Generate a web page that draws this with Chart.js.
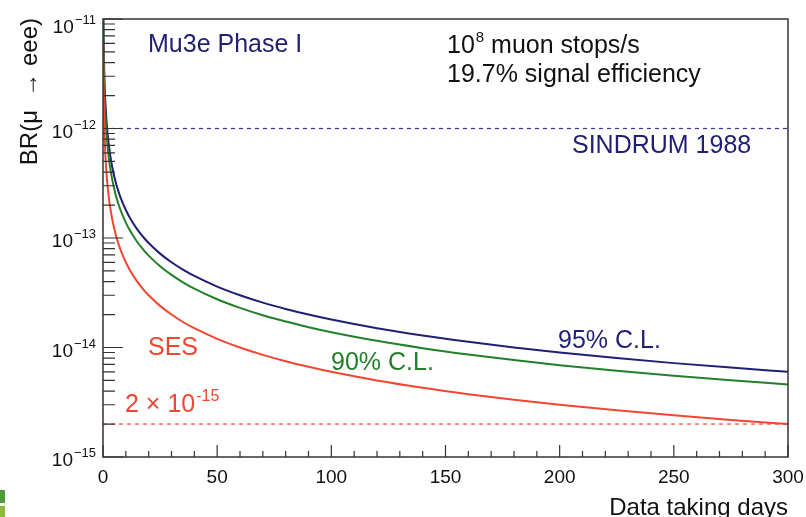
<!DOCTYPE html>
<html>
<head>
<meta charset="utf-8">
<script src="https://cdn.jsdelivr.net/npm/chart.js@4"></script>
<style>
  body { margin: 0; background: #fff; }
  canvas { display: block; }
</style>
</head>
<body>
<canvas id="mu3eChart" width="806" height="517"></canvas>
<script>
// Data taking days and the branching ratio reach
const days = [0.1, 0.15, 0.2, 0.3, 0.4, 0.5, 0.75, 1, 1.5, 2, 2.5, 3, 4, 5, 6, 7, 8, 10, 12, 15, 18, 20, 25, 30, 35, 40, 50, 60, 70, 80, 90, 100, 120, 140, 160, 180, 200, 225, 250, 275, 300];
const sesLimit = [6e-12, 4e-12, 3e-12, 2e-12, 1.5e-12, 1.2e-12, 8e-13, 6e-13, 4e-13, 3e-13, 2.4e-13, 2e-13, 1.5e-13, 1.2e-13, 1e-13, 8.57e-14, 7.5e-14, 6e-14, 5e-14, 4e-14, 3.33e-14, 3e-14, 2.4e-14, 2e-14, 1.71e-14, 1.5e-14, 1.2e-14, 1e-14, 8.57e-15, 7.5e-15, 6.67e-15, 6e-15, 5e-15, 4.29e-15, 3.75e-15, 3.33e-15, 3e-15, 2.67e-15, 2.4e-15, 2.18e-15, 2e-15];
const cl90Limit = [1.38e-11, 9.2e-12, 6.9e-12, 4.6e-12, 3.45e-12, 2.76e-12, 1.84e-12, 1.38e-12, 9.2e-13, 6.9e-13, 5.52e-13, 4.6e-13, 3.45e-13, 2.76e-13, 2.3e-13, 1.97e-13, 1.73e-13, 1.38e-13, 1.15e-13, 9.2e-14, 7.67e-14, 6.9e-14, 5.52e-14, 4.6e-14, 3.94e-14, 3.45e-14, 2.76e-14, 2.3e-14, 1.97e-14, 1.73e-14, 1.53e-14, 1.38e-14, 1.15e-14, 9.86e-15, 8.63e-15, 7.67e-15, 6.9e-15, 6.13e-15, 5.52e-15, 5.02e-15, 4.6e-15];
const cl95Limit = [1.8e-11, 1.2e-11, 9e-12, 6e-12, 4.5e-12, 3.6e-12, 2.4e-12, 1.8e-12, 1.2e-12, 9e-13, 7.2e-13, 6e-13, 4.5e-13, 3.6e-13, 3e-13, 2.57e-13, 2.25e-13, 1.8e-13, 1.5e-13, 1.2e-13, 1e-13, 9e-14, 7.2e-14, 6e-14, 5.14e-14, 4.5e-14, 3.6e-14, 3e-14, 2.57e-14, 2.25e-14, 2e-14, 1.8e-14, 1.5e-14, 1.29e-14, 1.13e-14, 1e-14, 9e-15, 8e-15, 7.2e-15, 6.55e-15, 6e-15];
const xRange = [0, 300];
const sindrumLimit = 1e-12;
const sesTarget = 2e-15;
const xTickLabels = [0, 50, 100, 150, 200, 250, 300];
const yTickExponents = [-11, -12, -13, -14, -15];

const NAVY = '#1f1f73';
const GREEN = '#22802a';
const RED = '#f04632';
const FONT = '"Liberation Sans", Arial, sans-serif';

const toPoints = (xs, ys) => xs.map((d, i) => ({ x: d, y: ys[i] }));

// draws "base" followed by a raised exponent, returns the right edge
const drawPower = (ctx, base, exp, x, y, size, expSize, align) => {
    ctx.font = size + 'px ' + FONT;
    const wBase = ctx.measureText(base).width;
    ctx.font = expSize + 'px ' + FONT;
    const wExp = ctx.measureText(exp).width;
    let left = x;
    if (align === 'right') left = x - wBase - wExp - 1;
    ctx.textAlign = 'left';
    ctx.textBaseline = 'alphabetic';
    ctx.font = size + 'px ' + FONT;
    ctx.fillText(base, left, y);
    ctx.font = expSize + 'px ' + FONT;
    ctx.fillText(exp, left + wBase + 1, y - size * 0.45);
    return left + wBase + 1 + wExp;
};

const rootStyle = {
    id: 'rootStyle',
    afterDraw(chart) {
        const ctx = chart.ctx;
        const area = chart.chartArea;
        const xs = chart.scales.x;
        const ys = chart.scales.y;
        ctx.save();

        // frame
        ctx.strokeStyle = '#333';
        ctx.lineWidth = 1.5;
        ctx.strokeRect(area.left, area.top, area.right - area.left, area.bottom - area.top);

        // x ticks (inward)
        ctx.lineWidth = 1.2;
        ctx.beginPath();
        for (let v = xRange[0]; v <= xRange[1]; v += 10) {
            const px = xs.getPixelForValue(v);
            const len = v % 50 === 0 ? 12 : 6;
            ctx.moveTo(px, area.bottom);
            ctx.lineTo(px, area.bottom - len);
        }
        // y ticks (inward), decades and 2..9
        yTickExponents.forEach(e => {
            for (let m = 1; m <= 9; m++) {
                const val = m * Math.pow(10, e);
                if (val > ys.max * 1.0001 || val < ys.min * 0.9999) continue;
                const py = ys.getPixelForValue(val);
                const len = m === 1 ? 20 : 12;
                ctx.moveTo(area.left, py);
                ctx.lineTo(area.left + len, py);
            }
        });
        ctx.stroke();

        // tick labels
        ctx.fillStyle = '#111';
        ctx.font = '19px ' + FONT;
        ctx.textAlign = 'center';
        ctx.textBaseline = 'alphabetic';
        xTickLabels.forEach(v => {
            ctx.fillText(String(v), xs.getPixelForValue(v), area.bottom + 26);
        });
        yTickExponents.forEach((e, i) => {
            const py = ys.getPixelForValue(Math.pow(10, e)) + (i === 0 ? 14 : 9);
            drawPower(ctx, '10', '\u2212' + Math.abs(e), 96, py, 19, 13, 'right');
        });

        // axis titles
        ctx.font = '24px ' + FONT;
        ctx.textAlign = 'right';
        ctx.fillText('Data taking days', area.right, 515);
        ctx.save();
        ctx.translate(37, 18);
        ctx.rotate(-Math.PI / 2);
        ctx.textAlign = 'right';
        ctx.fillText('BR(\u03bc  \u2192 eee)', 0, 0);
        ctx.restore();

        // annotations
        ctx.textAlign = 'left';
        ctx.font = '25px ' + FONT;
        ctx.fillStyle = NAVY;
        ctx.fillText('Mu3e Phase I', 148, 52);
        ctx.fillText('SINDRUM 1988', 572, 153);
        ctx.fillText('95% C.L.', 558, 348);
        ctx.fillStyle = '#111';
        const after = drawPower(ctx, '10', '8', 447, 53, 25, 15, 'left');
        ctx.font = '25px ' + FONT;
        ctx.fillText(' muon stops/s', after, 53);
        ctx.fillText('19.7% signal efficiency', 447, 82);
        ctx.fillStyle = GREEN;
        ctx.fillText('90% C.L.', 331, 370);
        ctx.fillStyle = RED;
        ctx.fillText('SES', 148, 355);
        ctx.font = '25px ' + FONT;
        const wTwo = ctx.measureText('2 \u00d7 ').width;
        ctx.fillText('2 \u00d7 ', 125, 412);
        drawPower(ctx, '10', '-15', 125 + wTwo, 412, 25, 16, 'left');

        // little green marks at the lower left edge of the picture
        ctx.fillStyle = '#4d9b3a';
        ctx.fillRect(0, 490, 5, 13);
        ctx.fillStyle = '#8cbb3a';
        ctx.fillRect(0, 506, 5, 11);

        ctx.restore();
    }
};

const ctx = document.getElementById('mu3eChart').getContext('2d');
const myChart = new Chart(ctx, {
    type: 'line',
    data: {
        datasets: [
            {
                label: 'SINDRUM 1988',
                data: toPoints(xRange, [sindrumLimit, sindrumLimit]),
                borderColor: '#3c3c8c',
                borderWidth: 1.2,
                borderDash: [4, 4],
                pointRadius: 0
            },
            {
                label: '2e-15',
                data: toPoints(xRange, [sesTarget, sesTarget]),
                borderColor: RED,
                borderWidth: 1.2,
                borderDash: [4, 4],
                pointRadius: 0
            },
            {
                label: 'SES',
                data: toPoints(days, sesLimit),
                borderColor: RED,
                borderWidth: 2,
                pointRadius: 0,
                cubicInterpolationMode: 'monotone'
            },
            {
                label: '90% C.L.',
                data: toPoints(days, cl90Limit),
                borderColor: GREEN,
                borderWidth: 2,
                pointRadius: 0,
                cubicInterpolationMode: 'monotone'
            },
            {
                label: '95% C.L.',
                data: toPoints(days, cl95Limit),
                borderColor: NAVY,
                borderWidth: 2,
                pointRadius: 0,
                cubicInterpolationMode: 'monotone'
            }
        ]
    },
    options: {
        responsive: false,
        animation: false,
        layout: { padding: { left: 103, top: 19, right: 18, bottom: 60 } },
        plugins: {
            legend: { display: false },
            tooltip: { enabled: false }
        },
        scales: {
            x: { type: 'linear', min: xRange[0], max: xRange[1], display: false },
            y: { type: 'logarithmic', min: 1e-15, max: 1e-11, display: false }
        }
    },
    plugins: [rootStyle]
});
</script>
</body>
</html>
